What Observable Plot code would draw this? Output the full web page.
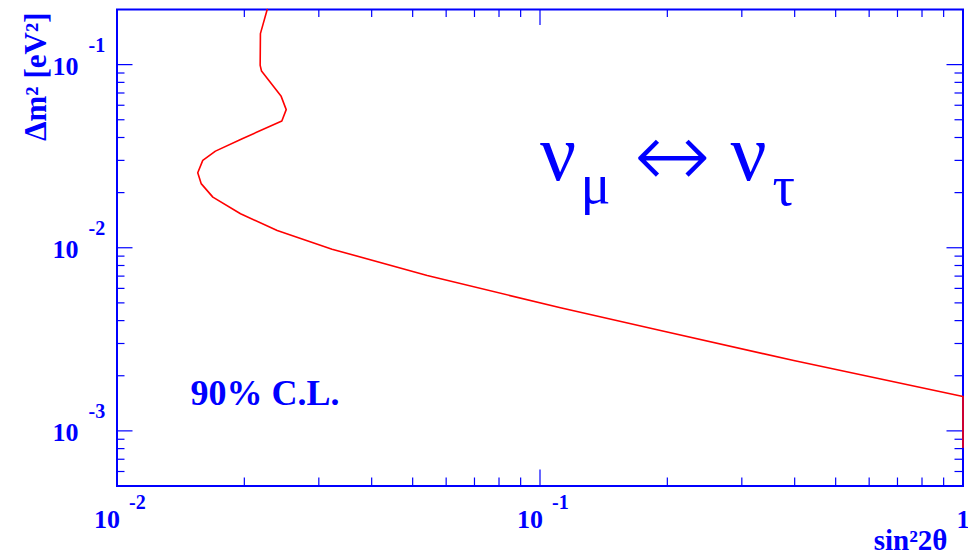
<!DOCTYPE html>
<html><head><meta charset="utf-8">
<script src="https://cdn.jsdelivr.net/npm/d3@7"></script>
<script src="https://cdn.jsdelivr.net/npm/@observablehq/plot@0.6"></script>
<style>html,body{margin:0;padding:0;background:#fff} svg{display:block}</style>
</head><body><div id="chart"></div>
<script>
// 90% C.L. exclusion contour (nu_mu <-> nu_tau)
const sin2 = [0.02265, 0.02183, 0.02180, 0.02196, 0.02444, 0.02512, 0.02453, 0.01977, 0.01709, 0.01595, 0.01552, 0.01581, 0.01685, 0.01959, 0.02392, 0.03224, 0.05412, 0.1118, 0.1927, 0.398, 1.0, 1.0];
const dm2  = [0.2000, 0.1477, 0.0991, 0.0923, 0.0671, 0.0568, 0.0492, 0.0394, 0.0337, 0.0300, 0.0257, 0.0224, 0.0189, 0.01534, 0.01243, 0.00982, 0.00706, 0.00470, 0.00353, 0.00242, 0.00154, 0.000813];

const xMajor = [0.01, 0.1, 1];
const xMinor = [0.02, 0.03, 0.04, 0.05, 0.06, 0.07, 0.08, 0.09, 0.2, 0.3, 0.4, 0.5, 0.6, 0.7, 0.8, 0.9];
const yMajor = [0.001, 0.01, 0.1];
const yMinor = [0.0005, 0.0006, 0.0007, 0.0008, 0.0009, 0.002, 0.003, 0.004, 0.005, 0.006, 0.007, 0.008, 0.009, 0.02, 0.03, 0.04, 0.05, 0.06, 0.07, 0.08, 0.09];

const xLabelValues = [0.01, 0.1];
const xLabelExps = ["-2", "-1"];
const xEndValue = [1];
const xEndLabel = ["1"];
const yLabelValues = [0.001, 0.01, 0.1];
const yLabelExps = ["-3", "-2", "-1"];

const xTitle = "sin²2θ";
const yTitle = "Δm² [eV²]";
const clText = "90% C.L.";
const clPos = [0.01492, 0.001392];
const chanPos = [0.1, 0.02332];

const curve = sin2.map((s, i) => ({s, d: dm2[i]}));

const W = 968, H = 556;
const mT = 9, mB = 70.5, mL = 116.5, mR = 5.5;
const pH = H - mT - mB, pW = W - mL - mR;
const BLUE = "#0000ff", RED = "#ff0000";
const SERIF = "Liberation Serif, Times New Roman, serif";
const MAJ = 16, MIN = 8;

const tx = (data, len, side) => Plot.tickX(data, {x: d => d, stroke: BLUE, strokeWidth: 1.2,
  ...(side === "bottom" ? {insetTop: pH - len} : {insetBottom: pH - len})});
const ty = (data, len, side) => Plot.tickY(data, {y: d => d, stroke: BLUE, strokeWidth: 1.2,
  ...(side === "left" ? {insetRight: pW - len} : {insetLeft: pW - len})});

const txt = {fill: BLUE, fontFamily: SERIF, fontWeight: "bold", lineAnchor: "bottom"};
const greek = {fill: BLUE, fontFamily: SERIF, lineAnchor: "bottom", x: chanPos[0], y: chanPos[1], text: d => d, textAnchor: "start"};

const chart = Plot.plot({
  width: W, height: H,
  marginTop: mT, marginBottom: mB, marginLeft: mL, marginRight: mR,
  x: {type: "log", domain: [0.01, 1], axis: null},
  y: {type: "log", domain: [0.0005, 0.2], axis: null},
  style: {background: "#fff"},
  marks: [
    tx(xMajor, MAJ, "bottom"), tx(xMinor, MIN, "bottom"),
    tx(xMajor, MAJ, "top"), tx(xMinor, MIN, "top"),
    ty(yMajor, MAJ, "left"), ty(yMinor, MIN, "left"),
    ty(yMajor, MAJ, "right"), ty(yMinor, MIN, "right"),
    Plot.frame({stroke: BLUE, strokeWidth: 2}),
    Plot.line(curve, {x: "s", y: "d", stroke: RED, strokeWidth: 1.6}),
    // x tick labels
    Plot.text(xLabelValues, {...txt, x: d => d, text: () => "10", frameAnchor: "bottom", textAnchor: "end", dx: 3, dy: 41.5, fontSize: 26}),
    Plot.text(xLabelValues, {...txt, x: d => d, text: (d, i) => xLabelExps[i], frameAnchor: "bottom", textAnchor: "start", dx: 12, dy: 22.5, fontSize: 20}),
    Plot.text(xEndValue, {...txt, x: d => d, text: (d, i) => xEndLabel[i], frameAnchor: "bottom", textAnchor: "middle", dx: 0, dy: 41.5, fontSize: 26}),
    // y tick labels
    Plot.text(yLabelValues, {...txt, y: d => d, text: () => "10", frameAnchor: "left", textAnchor: "end", dx: -38.5, dy: 10, fontSize: 26}),
    Plot.text(yLabelValues, {...txt, y: d => d, text: (d, i) => yLabelExps[i], frameAnchor: "left", textAnchor: "start", dx: -28.5, dy: -13, fontSize: 20}),
    // axis titles
    Plot.text([xTitle], {...txt, text: d => d, frameAnchor: "bottom-right", textAnchor: "end", dx: -15.5, dy: 63.5, fontSize: 29}),
    Plot.text([yTitle], {...txt, text: d => d, frameAnchor: "top-left", rotate: -90, textAnchor: "end", dx: -71.5, dy: 3, fontSize: 31}),
    // annotations
    Plot.text([clText], {...txt, x: clPos[0], y: clPos[1], text: d => d, textAnchor: "start", fontSize: 36}),
    Plot.text(["ν"], {...greek, fontSize: 80}),
    Plot.text(["μ"], {...greek, dx: 40.5, dy: 23, fontSize: 56}),
    Plot.text(["↔"], {...greek, fontFamily: "DejaVu Sans", fontWeight: 200, dx: 93.5, dy: 7, fontSize: 92}),
    Plot.text(["ν"], {...greek, dx: 190.5, fontSize: 80}),
    Plot.text(["τ"], {...greek, dx: 232.5, dy: 25, fontSize: 56})
  ]
});
document.getElementById("chart").appendChild(chart);
</script>
</body></html>
